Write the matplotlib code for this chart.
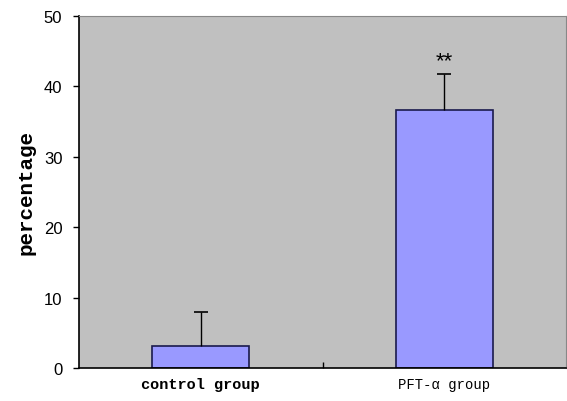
import numpy as np
import matplotlib
matplotlib.use('Agg')
import matplotlib.pyplot as plt

groups = ['control group', 'PFT-α group']
values = np.array([3.1, 36.7])
errors = np.array([4.9, 5.1])
stars = ['', '**']

fig = plt.figure(figsize=(5.67, 4.02), dpi=100)
ax = fig.add_axes([79/567, 33/402, 487/567, 352/402])
ax.set_facecolor('#c0c0c0')

x = np.array([0.5, 1.5])
tops = values + errors
ax.bar(x, values, width=0.4, color='#9999ff', edgecolor='#1a1a4d', linewidth=1.2, zorder=2)
# upper error bars only
ax.vlines(x, values, tops, color='black', linewidth=1, zorder=3)
ax.plot(x, tops, ls='none', marker='_', markersize=10, markeredgewidth=1.2,
        color='black', zorder=3)
for xi, t, s in zip(x, tops, stars):
    if s:
        ax.text(xi, t + 1.9, s, ha='center', va='center', fontsize=16,
                family='Liberation Sans')

ax.set_xlim(0, 2)
ax.set_ylim(0, 50)
ax.set_yticks(range(0, 51, 10))
ax.set_xticks([1])
ax.set_xticklabels([''])
ax.tick_params(axis='x', direction='in', length=4, width=1)
ax.tick_params(axis='y', direction='out', length=4, width=1, pad=8, labelsize=12)
for lab in ax.get_yticklabels():
    lab.set_family('Liberation Sans')
for sp in ['left', 'bottom']:
    ax.spines[sp].set_linewidth(1.2)
for sp in ['top', 'right']:
    ax.spines[sp].set_color('#888888')
    ax.spines[sp].set_linewidth(0.8)

ax.text(x[0], -2.3, groups[0], ha='center', va='center', fontsize=11,
        family='Liberation Mono', weight='bold')
ax.text(x[1], -2.3, groups[1], ha='center', va='center', fontsize=10,
        family=['Liberation Mono', 'DejaVu Sans'])
ax.set_ylabel('percentage', fontsize=15, family='Liberation Mono', weight='bold', labelpad=6)

fig.savefig('out.png', dpi=100)
